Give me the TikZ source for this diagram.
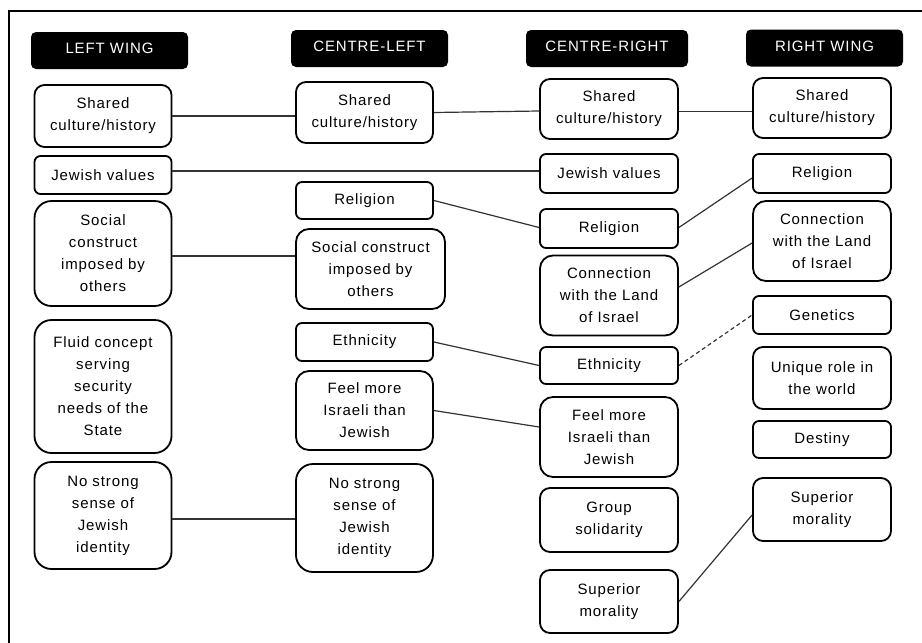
\documentclass[tikz,border=0pt]{standalone}
\usepackage{fontspec}
\setmainfont{Liberation Sans}[LetterSpace=6]
\begin{document}
\begin{tikzpicture}[x=1pt,y=-1pt,
  txt/.style={font=\fontsize{15}{22}\selectfont, align=center, inner sep=1pt},
  box/.style={txt, draw=black, line width=1.8pt},
  sm/.style={box, rounded corners=6pt},
  md/.style={box, rounded corners=10pt},
  lg/.style={box, rounded corners=13pt},
  xl/.style={box, rounded corners=17pt},
  head/.style={txt, fill=black, text=white, rounded corners=5pt, minimum height=37pt, text depth=4pt},
  link/.style={draw=black!80, line width=1.2pt},
  dlink/.style={link, dash pattern=on 4pt off 3pt}]
\useasboundingbox (0,0) rectangle (922,643);
% outer frame
\draw[line width=2pt] (9,650) -- (9,11) -- (930,11);

% column headings
\node[head, minimum width=157pt] (hlw) at (109.5,50.5) {LEFT WING};
\node[head, minimum width=157pt] (hcl) at (369.5,48.5) {CENTRE-LEFT};
\node[head, minimum width=162pt] (hcr) at (607,48.5) {CENTRE-RIGHT};
\node[head, minimum width=157pt] (hrw) at (824.5,48) {RIGHT WING};

% left wing
\node[md, minimum width=137pt, minimum height=62pt] (lw1) at (103,116) {Shared\\culture/history};
\node[sm, minimum width=137pt, minimum height=38pt] (lw2) at (103,175) {Jewish values};
\node[xl, minimum width=137pt, minimum height=105pt] (lw3) at (103,253.5) {Social\\construct\\imposed by\\others};
\node[xl, minimum width=137pt, minimum height=133pt] (lw4) at (103,386.5) {Fluid concept\\serving\\security\\needs of the\\State};
\node[xl, minimum width=137pt, minimum height=107pt] (lw5) at (103,515.5) {No strong\\sense of\\Jewish\\identity};

% centre-left
\node[md, minimum width=137pt, minimum height=61pt] (cl1) at (364.5,112.5) {Shared\\culture/history};
\node[sm, minimum width=137pt, minimum height=37pt] (cl2) at (364.5,200.5) {Religion};
\node[lg, minimum width=149pt, minimum height=80pt] (cl3) at (370.5,269) {Social construct\\imposed by\\others};
\node[sm, minimum width=137pt, minimum height=38pt] (cl4) at (364.5,342) {Ethnicity};
\node[lg, minimum width=137pt, minimum height=79pt] (cl5) at (364.5,410.5) {Feel more\\Israeli than\\Jewish};
\node[xl, minimum width=137pt, minimum height=108pt] (cl6) at (364.5,518) {No strong\\sense of\\Jewish\\identity};

% centre-right
\node[md, minimum width=138pt, minimum height=60pt] (cr1) at (609,109) {Shared\\culture/history};
\node[sm, minimum width=138pt, minimum height=39pt] (cr2) at (609,173.5) {Jewish values};
\node[sm, minimum width=138pt, minimum height=39pt] (cr3) at (609,228.5) {Religion};
\node[lg, minimum width=138pt, minimum height=80pt] (cr4) at (609,295.5) {Connection\\with the Land\\of Israel};
\node[sm, minimum width=138pt, minimum height=37pt] (cr5) at (609,365.5) {Ethnicity};
\node[lg, minimum width=138pt, minimum height=80pt] (cr6) at (609,437) {Feel more\\Israeli than\\Jewish};
\node[md, minimum width=138pt, minimum height=64pt] (cr7) at (609,520) {Group\\solidarity};
\node[md, minimum width=138pt, minimum height=63pt] (cr8) at (609,601.5) {Superior\\morality};

% right wing
\node[md, minimum width=138pt, minimum height=60pt] (rw1) at (822,108) {Shared\\culture/history};
\node[sm, minimum width=138pt, minimum height=39pt] (rw2) at (822,173.5) {Religion};
\node[lg, minimum width=138pt, minimum height=80pt] (rw3) at (822,241) {Connection\\with the Land\\of Israel};
\node[sm, minimum width=138pt, minimum height=38pt] (rw4) at (822,315) {Genetics};
\node[md, minimum width=138pt, minimum height=62pt] (rw5) at (822,378) {Unique role in\\the world};
\node[sm, minimum width=138pt, minimum height=37pt] (rw6) at (822,439.5) {Destiny};
\node[md, minimum width=138pt, minimum height=63pt] (rw7) at (822,509.5) {Superior\\morality};

% connectors between shared items
\draw[link] (lw1.east) -- ([yshift=-3.5pt]cl1.west);
\draw[link] (cl1.east) -- ([yshift=-2pt]cr1.west);
\draw[link] ([yshift=-2.5pt]cr1.east) -- ([yshift=-3.5pt]rw1.west);
\draw[link] ([yshift=4pt]lw2.east) -- ([yshift=2.5pt]cr2.west);
\draw[link] (cl2.east) -- ([yshift=1pt]cr3.west);
\draw[link] ([yshift=1pt]cr3.east) -- ([yshift=-4.5pt]rw2.west);
\draw[link] ([yshift=-2.5pt]lw3.east) -- ([yshift=13pt]cl3.west);
\draw[link] ([yshift=8.5pt]cr4.east) -- ([yshift=-2pt]rw3.west);
\draw[link] (cl4.east) -- (cr5.west);
\draw[dlink] (cr5.east) -- (rw4.west);
\draw[link] (cl5.east) -- ([yshift=10pt]cr6.west);
\draw[link] ([yshift=-3.5pt]lw5.east) -- ([yshift=-1pt]cl6.west);
\draw[link] (cr8.east) -- ([yshift=-5.5pt]rw7.west);
\end{tikzpicture}
\end{document}
